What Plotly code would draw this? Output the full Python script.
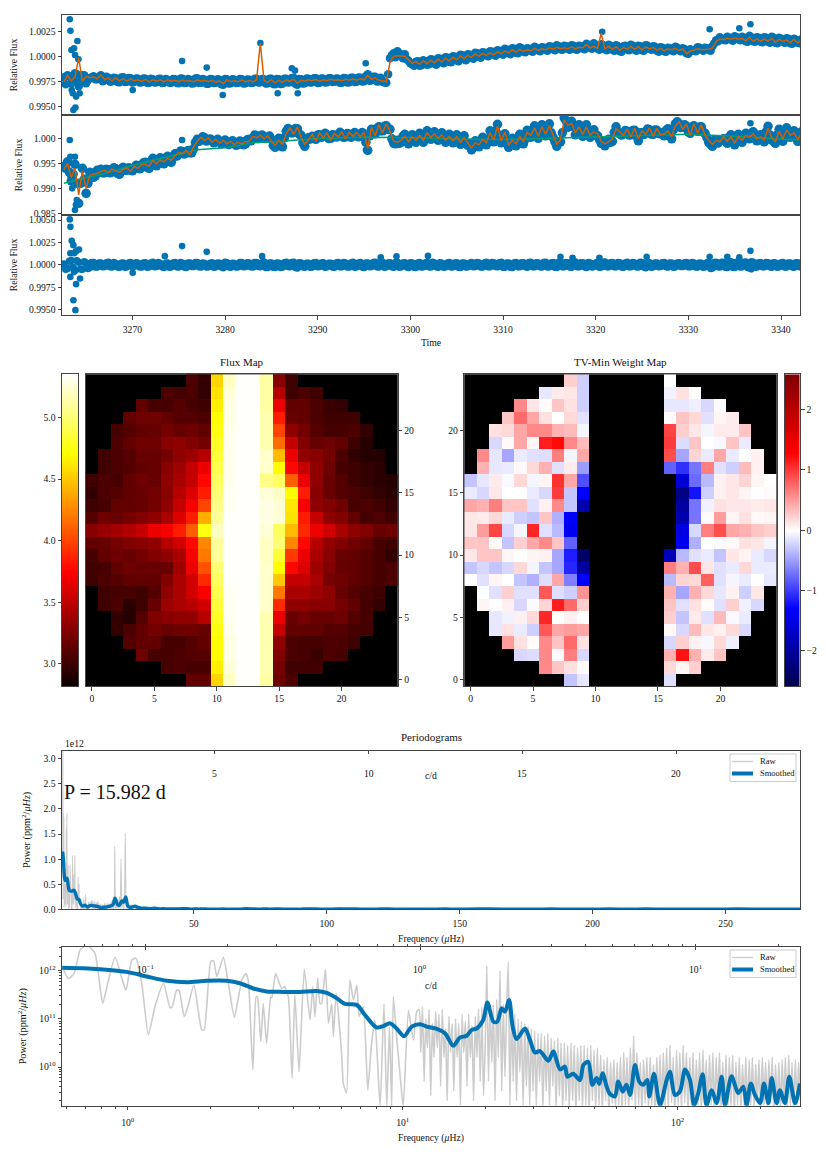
import plotly.graph_objects as go

N = None
WIDTH, HEIGHT = 831, 1155
FONT = "Liberation Serif"
BLUE, ORANGE, GREEN, GRAY = "#0173b2", "#d55e00", "#029e73", "#cccccc"
SPINE = "#444444"

## light curves, flux values are offsets from 1 in units of 1e-5
time_days = [
    3262.6, 3263.0, 3263.4, 3263.8, 3264.2, 3264.6, 3265.0, 3265.4, 3265.8, 3266.2,
    3266.6, 3267.0, 3267.4, 3267.8, 3268.2, 3268.6, 3269.0, 3269.4, 3269.8, 3270.2,
    3270.6, 3271.0, 3271.4, 3271.8, 3272.2, 3272.6, 3273.0, 3273.4, 3273.8, 3274.2,
    3274.6, 3275.0, 3275.4, 3275.8, 3276.2, 3276.6, 3277.0, 3277.4, 3277.8, 3278.2,
    3278.6, 3279.0, 3279.4, 3279.8, 3280.2, 3280.6, 3281.0, 3281.4, 3281.8, 3282.2,
    3282.6, 3283.0, 3283.4, 3283.8, 3284.2, 3284.6, 3285.0, 3285.4, 3285.8, 3286.2,
    3286.6, 3287.0, 3287.4, 3287.8, 3288.2, 3288.6, 3289.0, 3289.4, 3289.8, 3290.2,
    3290.6, 3291.0, 3291.4, 3291.8, 3292.2, 3292.6, 3293.0, 3293.4, 3293.8, 3294.2,
    3294.6, 3295.0, 3295.4, 3295.8, 3296.2, 3296.6, 3297.0, 3297.4, 3297.8, 3298.2,
    3298.6, 3299.0, 3299.4, 3299.8, 3300.2, 3300.6, 3301.0, 3301.4, 3301.8, 3302.2,
    3302.6, 3303.0, 3303.4, 3303.8, 3304.2, 3304.6, 3305.0, 3305.4, 3305.8, 3306.2,
    3306.6, 3307.0, 3307.4, 3307.8, 3308.2, 3308.6, 3309.0, 3309.4, 3309.8, 3310.2,
    3310.6, 3311.0, 3311.4, 3311.8, 3312.2, 3312.6, 3313.0, 3313.4, 3313.8, 3314.2,
    3314.6, 3315.0, 3315.4, 3315.8, 3316.2, 3316.6, 3317.0, 3317.4, 3317.8, 3318.2,
    3318.6, 3319.0, 3319.4, 3319.8, 3320.2, 3320.6, 3321.0, 3321.4, 3321.8, 3322.2,
    3322.6, 3323.0, 3323.4, 3323.8, 3324.2, 3324.6, 3325.0, 3325.4, 3325.8, 3326.2,
    3326.6, 3327.0, 3327.4, 3327.8, 3328.2, 3328.6, 3329.0, 3329.4, 3329.8, 3330.2,
    3330.6, 3331.0, 3331.4, 3331.8, 3332.2, 3332.6, 3333.0, 3333.4, 3333.8, 3334.2,
    3334.6, 3335.0, 3335.4, 3335.8, 3336.2, 3336.6, 3337.0, 3337.4, 3337.8, 3338.2,
    3338.6, 3339.0, 3339.4, 3339.8, 3340.2, 3340.6, 3341.0, 3341.4, 3341.8, 3342.2,
]
## the samples in between those above
time_mid = [
    3262.8, 3263.2, 3263.6, 3264.0, 3264.4, 3264.8, 3265.2, 3265.6, 3266.0, 3266.4,
    3266.8, 3267.2, 3267.6, 3268.0, 3268.4, 3268.8, 3269.2, 3269.6, 3270.0, 3270.4,
    3270.8, 3271.2, 3271.6, 3272.0, 3272.4, 3272.8, 3273.2, 3273.6, 3274.0, 3274.4,
    3274.8, 3275.2, 3275.6, 3276.0, 3276.4, 3276.8, 3277.2, 3277.6, 3278.0, 3278.4,
    3278.8, 3279.2, 3279.6, 3280.0, 3280.4, 3280.8, 3281.2, 3281.6, 3282.0, 3282.4,
    3282.8, 3283.2, 3283.6, 3284.0, 3284.4, 3284.8, 3285.2, 3285.6, 3286.0, 3286.4,
    3286.8, 3287.2, 3287.6, 3288.0, 3288.4, 3288.8, 3289.2, 3289.6, 3290.0, 3290.4,
    3290.8, 3291.2, 3291.6, 3292.0, 3292.4, 3292.8, 3293.2, 3293.6, 3294.0, 3294.4,
    3294.8, 3295.2, 3295.6, 3296.0, 3296.4, 3296.8, 3297.2, 3297.6, 3298.0, 3298.4,
    3298.8, 3299.2, 3299.6, 3300.0, 3300.4, 3300.8, 3301.2, 3301.6, 3302.0, 3302.4,
    3302.8, 3303.2, 3303.6, 3304.0, 3304.4, 3304.8, 3305.2, 3305.6, 3306.0, 3306.4,
    3306.8, 3307.2, 3307.6, 3308.0, 3308.4, 3308.8, 3309.2, 3309.6, 3310.0, 3310.4,
    3310.8, 3311.2, 3311.6, 3312.0, 3312.4, 3312.8, 3313.2, 3313.6, 3314.0, 3314.4,
    3314.8, 3315.2, 3315.6, 3316.0, 3316.4, 3316.8, 3317.2, 3317.6, 3318.0, 3318.4,
    3318.8, 3319.2, 3319.6, 3320.0, 3320.4, 3320.8, 3321.2, 3321.6, 3322.0, 3322.4,
    3322.8, 3323.2, 3323.6, 3324.0, 3324.4, 3324.8, 3325.2, 3325.6, 3326.0, 3326.4,
    3326.8, 3327.2, 3327.6, 3328.0, 3328.4, 3328.8, 3329.2, 3329.6, 3330.0, 3330.4,
    3330.8, 3331.2, 3331.6, 3332.0, 3332.4, 3332.8, 3333.2, 3333.6, 3334.0, 3334.4,
    3334.8, 3335.2, 3335.6, 3336.0, 3336.4, 3336.8, 3337.2, 3337.6, 3338.0, 3338.4,
    3338.8, 3339.2, 3339.6, 3340.0, 3340.4, 3340.8, 3341.2, 3341.6, 3342.0, 3342.4,
]

raw_flux = [
    -210, -190, -270, -170, -300, -190, -270, -220, -200, -230,
    -190, -240, -215, -250, -220, -260, -210, -255, -220, -255,
    -225, -260, -225, -265, -230, -260, -225, -265, -235, -265,
    -230, -270, -225, -265, -235, -270, -220, -265, -235, -275,
    -230, -265, -235, -285, -230, -270, -235, -265, -230, -270,
    -235, -265, -225, -260, -230, -270, -225, -280, -230, -275,
    -225, -260, -215, -285, -230, -270, -225, -260, -220, -265,
    -225, -260, -220, -255, -225, -265, -220, -260, -215, -255,
    -215, -250, -180, -240, -205, -250, -255, -265, -20, 30,
    50, 0, 20, -45, -80, -55, -95, -40, -85, -30,
    -75, -20, -60, -10, -55, 0, -40, 15, -30, 20,
    -15, 35, -5, 40, 10, 50, 15, 60, 25, 75,
    30, 80, 35, 90, 45, 80, 55, 95, 60, 90,
    65, 100, 70, 110, 70, 105, 75, 110, 70, 105,
    80, 125, 85, 130, 75, 120, 70, 115, 65, 110,
    50, 100, 70, 115, 65, 105, 60, 110, 75, 100,
    55, 90, 50, 85, 60, 95, 60, 80, 30, 70,
    60, 90, 65, 85, 65, 100, 160, 190, 165, 195,
    165, 200, 170, 195, 150, 205, 150, 190, 145, 190,
    145, 195, 135, 185, 145, 180, 130, 175, 135, 170,
]
raw_flux_mid = [
    -280, -200, -240, -180, -250, -190, -240, -210, -230, -205,
    -250, -205, -255, -215, -258, -212, -258, -218, -262, -222,
    -262, -222, -265, -224, -262, -226, -266, -228, -265, -228,
    -268, -222, -268, -228, -272, -222, -268, -226, -275, -228,
    -268, -230, -280, -228, -272, -230, -268, -228, -272, -232,
    -268, -225, -262, -228, -272, -224, -278, -228, -276, -224,
    -262, -218, -278, -228, -272, -222, -262, -220, -266, -222,
    -262, -220, -258, -222, -265, -218, -262, -215, -258, -212,
    -252, -200, -245, -205, -252, -215, -262, -180, 10, -10,
    30, -20, -30, -70, -95, -50, -90, -50, -80, -35,
    -85, -25, -70, -15, -60, -5, -50, 10, -40, 15,
    -25, 30, -15, 35, 0, 45, 5, 55, 15, 65,
    20, 75, 30, 80, 40, 75, 45, 85, 50, 85,
    55, 95, 60, 100, 65, 100, 65, 105, 65, 100,
    70, 115, 75, 110, 65, 110, 60, 105, 55, 100,
    45, 105, 60, 105, 55, 100, 55, 105, 65, 95,
    45, 85, 45, 80, 50, 85, 50, 70, 25, 55,
    50, 85, 55, 80, 55, 130, 150, 170, 160, 185,
    155, 190, 160, 185, 145, 190, 145, 185, 140, 185,
    135, 185, 130, 175, 135, 175, 125, 165, 130, 165,
]
raw_model = [
    -255, -190, -245, -205, -15, -250, -200, -215, -205, -225,
    -185, -235, -215, -245, -215, -245, -225, -245, -225, -245,
    -235, -250, -230, -255, -235, -250, -235, -255, -235, -250,
    -240, -255, -235, -250, -245, -255, -235, -250, -240, -255,
    -240, -260, -245, -275, -235, -255, -245, -255, -235, -255,
    -245, -255, -235, 133, -240, -260, -235, -265, -240, -260,
    -235, -250, -230, -270, -240, -250, -235, -245, -230, -250,
    -235, -245, -230, -240, -235, -245, -230, -240, -225, -240,
    -225, -235, -190, -230, -215, -240, -245, -255, -60, 0,
    5, 5, 0, -35, -70, -50, -80, -45, -75, -40,
    -65, -30, -55, -20, -45, -10, -35, 5, -25, 10,
    -10, 25, 0, 30, 10, 35, 15, 45, 25, 55,
    35, 65, 40, 70, 50, 65, 55, 80, 60, 75,
    65, 85, 70, 90, 75, 85, 75, 95, 75, 90,
    85, 115, 85, 100, 80, 230, 75, 100, 70, 95,
    60, 90, 70, 100, 70, 95, 65, 95, 75, 90,
    60, 80, 55, 75, 65, 80, 60, 75, 25, 50,
    60, 75, 65, 70, 70, 85, 150, 175, 165, 180,
    170, 185, 170, 180, 155, 190, 150, 175, 150, 175,
    150, 180, 140, 170, 150, 165, 135, 170, 135, 160,
]
raw_out_time = [3263.24, 3263.31, 3264.06, 3263.42, 3263.7, 3263.81, 3264.17, 3263.45, 3263.56, 3263.92, 3264.3,
                3263.63, 3263.85, 3264.46, 3275.36, 3278.02, 3283.81, 3270.03, 3279.75, 3285.68, 3287.84,
                3287.2, 3287.55, 3295.18, 3298.5, 3320.7, 3336.7, 3332.3, 3335.5]
raw_out_flux = [370, 256, 153, 63, 80, 13, -30, -337, -370, -403, -370,
                -537, -513, -270, -47, -113, 133, -337, -387, -370, -370,
                -120, -143, -70, 30, 246, 320, 270, 280]

detrend_flux = [
    -560, -470, -850, -520, -1300, -600, -1100, -680, -780, -640,
    -620, -690, -630, -660, -610, -720, -580, -640, -610, -600,
    -550, -580, -480, -600, -400, -550, -390, -510, -360, -480,
    -310, -320, -270, -280, -290, -210, -20, -20, 10, -30,
    -40, -60, -60, -80, -70, -100, -80, -120, -70, -110,
    -20, 0, 50, 20, 30, 10, -20, -180, 0, -170,
    140, 170, 120, 190, 60, -160, 10, 40, -20, 70,
    50, 70, 0, 60, 70, 90, 30, 80, 80, 70,
    70, 80, -240, 180, 90, 230, 150, 250, 180, -100,
    -40, -80, 80, -110, 70, -80, 100, -80, 150, -20,
    130, -40, 110, -80, 80, -90, 70, -120, 50, -140,
    -230, -50, -170, 20, -130, 150, -70, 280, -90, 90,
    -180, 0, -150, 80, -110, 160, 20, 250, 0, 270,
    50, 290, 20, -160, -70, 410, 220, 340, 70, 270,
    40, 270, 20, 170, 50, -100, -150, -20, -60, 230,
    90, 100, 140, 70, 160, -50, 110, 120, 170, 80,
    160, 110, 50, 190, -10, 290, 290, 220, 240, 100,
    250, 140, 230, 100, -80, -160, -80, -30, -10, -100,
    70, -130, 80, -80, 100, -10, 130, -50, 70, -70,
    240, -30, -100, 180, -60, 210, 20, 150, -60, 130,
]
detrend_flux_mid = [
    -600, -680, -720, -900, -900, -820, -900, -700, -750, -650,
    -690, -620, -690, -590, -700, -610, -640, -590, -650, -540,
    -610, -490, -580, -460, -520, -430, -490, -395, -460, -370,
    -355, -255, -315, -245, -290, -85, -60, 30, -55, -15,
    -90, -20, -110, -35, -125, -50, -140, -55, -130, -30,
    -50, 65, -5, 65, -5, 45, -140, -60, -125, 10,
    195, 105, 195, 85, -90, -35, -15, 5, 65, 20,
    100, -5, 70, 25, 120, 20, 95, 20, 115, 30,
    115, -80, 50, 95, 200, 150, 240, 175, -10, -110,
    -100, 40, -55, -20, -45, 40, -30, 75, 25, 95,
    5, 75, -25, 40, -45, 30, -65, 10, -85, -105,
    -180, -70, -115, -15, -25, -5, 145, 60, 30, -40,
    -130, -35, -75, 25, -10, 130, 75, 170, 80, 220,
    210, 110, -70, -70, 110, 350, 240, 240, 110, 210,
    195, 110, 115, 70, -25, -115, -45, -80, 120, 120,
    65, 155, 65, 155, 50, 110, 75, 185, 85, 165,
    95, 75, 160, 50, 175, 330, 215, 270, 130, 225,
    155, 225, 125, 15, -120, -40, -95, -25, -55, 25,
    -70, 10, -40, 45, 5, 100, -5, 50, -40, 130,
    65, -65, 70, 20, 110, 75, 125, 15, 80, 100,
]
detrend_model = [
    -620, -500, -780, -600, -1130, -650, -1000, -740, -720, -700,
    -660, -640, -680, -610, -650, -680, -620, -590, -660, -560,
    -600, -530, -520, -560, -440, -510, -430, -470, -400, -440,
    -350, -280, -310, -240, -330, -170, -60, 20, -40, 10,
    -80, -20, -100, -40, -110, -60, -120, -80, -110, -70,
    -60, 40, 10, 60, -10, 50, -60, -140, -40, -130,
    100, 210, 80, 230, 20, -120, -30, 80, -60, 110,
    10, 110, -40, 100, 30, 130, -10, 120, 40, 110,
    30, 120, -200, 220, 50, 270, 110, 290, 140, -60,
    -80, -40, 40, -70, 30, -40, 60, -40, 110, 20,
    90, 0, 70, -40, 40, -50, 30, -80, 10, -100,
    -190, -90, -130, -20, -90, 110, -30, 240, -50, 130,
    -140, -40, -110, 40, -70, 120, 60, 210, 40, 230,
    90, 250, 60, -120, -30, 370, 260, 300, 110, 230,
    80, 230, 60, 130, 90, -60, -110, -60, -20, 190,
    130, 60, 180, 30, 200, -10, 150, 80, 210, 40,
    200, 70, 90, 150, 30, 250, 330, 180, 280, 60,
    290, 100, 270, 60, -40, -120, -40, -70, 30, -60,
    30, -90, 40, -40, 60, 30, 90, -10, 30, -30,
    200, 10, -60, 140, -20, 170, 60, 110, -20, 90,
]
trend_time = [3262.6, 3265, 3268, 3270, 3272, 3275, 3277, 3280, 3283, 3286, 3290,
              3295, 3300, 3305, 3310, 3315, 3320, 3325, 3330, 3335, 3338, 3342]
trend_flux = [-900, -800, -660, -540, -450, -320, -230, -190, -90, -60, -5,
              20, 15, -15, -25, 0, 25, 45, 80, 40, 10, -35]
detrend_out_time = [3263.24, 3263.3, 3263.5, 3263.3, 3263.8, 3263.8, 3264.0, 3263.9, 3275.36, 3336.7, 3295.2]
detrend_out_flux = [-34, -368, -1000, -750, -368, -1434, -1234, -1330, -34, 300, -234]

resid_flux = [
    10, -40, 50, -60, 30, -50, 20, -30, 25, -25,
    22, -18, 28, -24, 15, -27, 20, -22, 26, -16,
    18, -25, 24, -20, 28, -18, 15, -28, 22, -20,
    25, -24, 17, -30, 21, -19, 26, -25, 16, -22,
    24, -20, 19, -32, 23, -26, 15, -21, 27, -18,
    20, -24, 26, -22, 32, -28, 22, -30, 18, -24,
    28, -20, 30, -34, 22, -26, 19, -24, 25, -18,
    24, -22, 18, -26, 27, -20, 21, -25, 30, -22,
    26, -28, 22, -18, 30, -24, 28, -20, 24, -26,
    30, -22, 24, -28, 20, -30, 26, -20, 30, -24,
    22, -26, 18, -22, 26, -20, 24, -28, 20, -22,
    26, -18, 22, -25, 28, -20, 24, -22, 30, -26,
    22, -28, 26, -20, 24, -26, 28, -22, 20, -24,
    30, -20, 26, -28, 34, -22, 24, -26, 32, -20,
    24, -28, 22, -18, 30, -24, 32, -22, 26, -20,
    24, -26, 28, -22, 20, -24, 26, -32, 24, -20,
    22, -18, 26, -24, 20, -22, 24, -18, 26, -20,
    22, -24, 18, -22, 28, -36, 30, -24, 26, -30,
    34, -28, 26, -22, 32, -36, 28, -24, 26, -22,
    24, -26, 20, -22, 26, -24, 22, -26, 24, -20,
]
resid_flux_mid = [
    -50, 40, -30, 45, -45, 35, -40, 25, -25, 20,
    -22, 24, -20, 26, -24, 18, -26, 22, -18, 24,
    -24, 20, -26, 22, -20, 26, -22, 18, -26, 20,
    -20, 26, -24, 22, -18, 26, -22, 20, -24, 18,
    -26, 22, -20, 28, -22, 18, -24, 26, -20, 24,
    -22, 26, -18, 24, -30, 22, -26, 20, -28, 24,
    -18, 26, -30, 24, -22, 18, -26, 24, -20, 22,
    -26, 18, -24, 22, -20, 26, -24, 20, -26, 22,
    -24, 22, -20, 26, -22, 24, -26, 20, -22, 26,
    -26, 20, -22, 24, -26, 20, -24, 22, -20, 28,
    -22, 24, -26, 20, -24, 22, -26, 20, -24, 18,
    -20, 26, -24, 20, -22, 26, -18, 24, -26, 22,
    -26, 22, -20, 24, -18, 26, -22, 24, -20, 26,
    -24, 22, -26, 30, -20, 26, -24, 28, -22, 24,
    -20, 26, -24, 22, -26, 28, -20, 24, -22, 26,
    -24, 22, -20, 26, -22, 30, -24, 28, -26, 22,
    -20, 24, -22, 20, -26, 22, -18, 24, -22, 26,
    -24, 20, -26, 24, -30, 26, -22, 28, -26, 30,
    -26, 30, -24, 28, -30, 34, -26, 24, -20, 26,
    -22, 24, -26, 20, -24, 22, -20, 24, -22, 26,
]
resid_out_time = [3263.24, 3263.31, 3263.45, 3263.63, 3263.3, 3263.7, 3264.24, 3263.9, 3263.3, 3263.7, 3263.92,
                  3264.35, 3263.63, 3263.85, 3270.03, 3275.36, 3278.02, 3273.5, 3284.0, 3296.8, 3298.5,
                  3301.9, 3325.5, 3316.2, 3317.5, 3320.4, 3332.3, 3334.2, 3335.5, 3336.7, 3336.8, 3332.4]
resid_out_flux = [507, 424, 268, 220, 130, 130, 172, 150, -134, -80, -215,
                  -152, -394, -505, -89, 209, 145, 97, 97, 83, 95,
                  100, 90, 90, 80, 80, 90, 90, 85, 156, -50, -45]

## pixel maps, top row first; flux map is log10 of the counts
flux_map = [
    [N, N, N, N, N, N, N, N, 3.07, 2.97, 4.55, 5.2, 5.34, 5.34, 5.12, 3.3, 3.02, N, N, N, N, N, N, N, N],
    [N, N, N, N, N, N, 3.07, 3.05, 3.07, 2.97, 4.6, 5.25, 5.34, 5.34, 5.12, 3.47, 3.02, 3.07, 3.02, N, N, N, N, N, N],
    [N, N, N, N, 3.15, 3.05, 3.05, 3.1, 3.05, 3.02, 4.65, 5.28, 5.34, 5.34, 5.12, 3.67, 3.15, 3.15, 3.07, 3.0, 2.97, N, N, N, N],
    [N, N, N, 3.15, 3.2, 3.2, 3.15, 3.1, 3.1, 3.07, 4.7, 5.28, 5.34, 5.34, 5.15, 3.85, 3.17, 3.15, 3.07, 3.02, 3.02, 3.02, N, N, N],
    [N, N, 3.05, 3.1, 3.15, 3.17, 3.22, 3.17, 3.2, 3.15, 4.75, 5.3, 5.34, 5.34, 5.15, 4.0, 3.32, 3.22, 3.1, 3.05, 3.05, 3.07, 2.97, N, N],
    [N, N, 3.07, 3.15, 3.2, 3.2, 3.3, 3.32, 3.27, 3.22, 4.8, 5.3, 5.34, 5.34, 5.15, 4.15, 3.52, 3.27, 3.17, 3.2, 3.15, 3.02, 2.92, N, N],
    [N, 3.02, 3.07, 3.1, 3.17, 3.17, 3.22, 3.32, 3.37, 3.47, 4.85, 5.3, 5.34, 5.34, 5.22, 4.45, 3.67, 3.32, 3.3, 3.22, 3.07, 2.97, 2.92, 2.92, N],
    [N, 3.02, 3.07, 3.1, 3.15, 3.17, 3.3, 3.37, 3.52, 3.67, 4.9, 5.3, 5.34, 5.34, 5.22, 4.7, 3.77, 3.52, 3.32, 3.2, 3.05, 3.02, 2.97, 2.94, N],
    [3.02, 3.07, 3.05, 3.15, 3.2, 3.17, 3.32, 3.42, 3.52, 3.77, 4.95, 5.3, 5.34, 5.34, 5.05, 4.95, 4.1, 3.67, 3.32, 3.17, 3.1, 3.02, 2.97, 2.94, 2.92],
    [2.97, 3.07, 3.1, 3.15, 3.17, 3.22, 3.3, 3.47, 3.62, 3.85, 5.0, 5.32, 5.34, 5.34, 5.25, 5.2, 4.7, 3.85, 3.3, 3.17, 3.1, 3.07, 3.02, 2.97, 2.94],
    [3.02, 3.05, 3.15, 3.15, 3.17, 3.22, 3.32, 3.52, 3.72, 4.0, 5.05, 5.32, 5.34, 5.34, 5.28, 5.25, 4.62, 3.72, 3.32, 3.27, 3.2, 3.05, 3.07, 3.02, 2.97],
    [3.1, 3.2, 3.17, 3.22, 3.27, 3.32, 3.42, 3.62, 3.85, 4.4, 5.1, 5.34, 5.34, 5.34, 5.28, 5.25, 4.6, 3.85, 3.52, 3.32, 3.27, 3.15, 3.05, 3.07, 3.02],
    [3.3, 3.35, 3.4, 3.45, 3.52, 3.67, 3.72, 3.85, 4.1, 4.75, 5.2, 5.34, 5.34, 5.34, 5.25, 4.95, 4.45, 3.9, 3.67, 3.57, 3.42, 3.32, 3.27, 3.17, 3.2],
    [3.15, 3.17, 3.22, 3.27, 3.3, 3.32, 3.47, 3.57, 3.77, 4.25, 5.1, 5.34, 5.34, 5.34, 5.2, 5.0, 4.25, 3.77, 3.47, 3.32, 3.27, 3.2, 3.15, 3.05, 3.02],
    [3.05, 3.15, 3.2, 3.17, 3.22, 3.27, 3.32, 3.42, 3.72, 4.2, 5.1, 5.34, 5.34, 5.34, 5.2, 4.85, 3.95, 3.67, 3.42, 3.3, 3.17, 3.15, 3.1, 3.05, 2.97],
    [3.02, 3.05, 3.15, 3.2, 3.17, 3.17, 3.17, 3.37, 3.67, 4.05, 5.0, 5.34, 5.34, 5.34, 5.22, 4.7, 3.77, 3.62, 3.37, 3.27, 3.17, 3.15, 3.1, 3.05, 3.07],
    [3.02, 3.07, 3.1, 3.15, 3.15, 3.15, 3.27, 3.42, 3.57, 3.9, 4.95, 5.34, 5.34, 5.34, 5.22, 4.5, 3.52, 3.52, 3.42, 3.22, 3.2, 3.15, 3.1, 3.05, 3.07],
    [N, 3.02, 3.05, 3.05, 3.02, 3.1, 3.32, 3.42, 3.57, 3.72, 4.9, 5.32, 5.34, 5.34, 5.22, 4.2, 3.42, 3.42, 3.37, 3.32, 3.17, 3.1, 3.05, 3.02, N],
    [N, 3.02, 3.07, 2.94, 3.02, 3.17, 3.37, 3.42, 3.47, 3.57, 4.85, 5.32, 5.34, 5.34, 5.22, 3.9, 3.32, 3.32, 3.3, 3.3, 3.22, 3.15, 3.05, 2.97, N],
    [N, N, 2.97, 2.92, 3.1, 3.27, 3.3, 3.32, 3.32, 3.47, 4.8, 5.32, 5.34, 5.34, 5.15, 3.67, 3.17, 3.22, 3.17, 3.17, 3.2, 3.1, 3.05, N, N],
    [N, N, 2.97, 3.07, 3.15, 3.22, 3.17, 3.2, 3.2, 3.17, 4.75, 5.3, 5.34, 5.34, 5.15, 3.52, 3.15, 3.15, 3.15, 3.1, 3.1, 3.05, 3.05, N, N],
    [N, N, N, 3.1, 3.15, 3.15, 3.05, 3.05, 3.1, 3.15, 4.7, 5.28, 5.34, 5.34, 5.15, 3.32, 3.07, 3.05, 3.05, 3.07, 3.07, 3.02, N, N, N],
    [N, N, N, N, 3.2, 3.05, 3.05, 3.07, 3.1, 3.1, 4.7, 5.28, 5.34, 5.34, 5.15, 3.27, 3.07, 3.05, 3.0, 3.07, 3.05, N, N, N, N],
    [N, N, N, N, N, N, 3.05, 3.07, 3.05, 3.05, 4.65, 5.25, 5.34, 5.34, 5.15, 3.22, 3.02, 3.02, 3.02, N, N, N, N, N, N],
    [N, N, N, N, N, N, N, N, 3.15, 3.15, 4.55, 5.2, 5.34, 5.34, 5.12, 3.2, 3.07, N, N, N, N, N, N, N, N],
]
weight_map = [
    [N, N, N, N, N, N, N, N, .25, -.25, N, N, N, N, N, N, 0, N, N, N, N, N, N, N, N],
    [N, N, N, N, N, N, -.12, .1, .12, -.25, N, N, N, N, N, N, -.07, .15, 0, N, N, N, N, N, N],
    [N, N, N, N, .6, .12, .02, .3, .15, -.25, N, N, N, N, N, N, -.12, -.12, -.08, -.2, -.02, N, N, N, N],
    [N, N, N, .3, .75, .45, .15, 0, .2, -.15, N, N, N, N, N, N, .02, .3, .2, -.15, .05, .1, N, N, N],
    [N, N, .15, .2, .45, .6, .6, .4, .35, -.05, N, N, N, N, N, N, .95, .25, .12, -.05, .1, .1, .3, N, N],
    [N, N, -.2, .02, .45, .05, 1.15, 1.25, .6, .35, N, N, N, N, N, N, 1.0, -.18, .3, 0, -.03, .3, -.1, N, N],
    [N, .6, -.12, -.45, -.1, -.15, -.17, .65, -.05, .45, N, N, N, N, N, N, .9, -.45, .22, -.1, .45, -.1, 0, .07, N],
    [N, .4, -.12, -.1, .03, .2, .4, -.15, .1, -.5, N, N, N, N, N, N, -.8, -1.05, -.7, .65, -.15, -.25, .35, .07, N],
    [-.3, -.12, .1, -.03, .2, -.05, .05, 1.05, .45, -.9, N, N, N, N, N, N, N, -1.6, -.75, -.35, .07, .12, .22, .05, 0],
    [-.1, -.2, .12, 0, 0, -.1, -.2, 1.0, -.3, -1.3, N, N, N, N, N, N, N, -2.2, -1.2, -.25, .07, .12, .05, 0, .02],
    [.45, .4, .65, .3, .3, -.15, .07, .6, -.3, -1.9, N, N, N, N, N, N, N, -2.0, -.7, -.07, .15, .12, .12, .1, .12],
    [.12, .1, .2, -.1, -.25, -.3, .3, -.4, -1.3, N, N, N, N, N, N, N, N, -1.9, -.7, .02, .5, .05, .15, .03, .05],
    [.12, .5, .95, -.2, -.05, 1.1, -.15, -.35, -1.4, N, N, N, N, N, N, N, N, -1.5, -.2, .65, .9, .45, .4, .3, .25],
    [.3, .3, .03, -.3, .25, .45, .6, .3, -.8, N, N, N, N, N, N, N, N, -1.4, -.4, 0, -.02, .03, .15, .12, -.05],
    [.12, .3, .3, .04, 0, .05, .07, -.45, -1.15, -2.4, N, N, N, N, N, N, -1.8, -.35, -.15, -.1, -.3, .12, .06, -.1, -.2],
    [-.3, -.2, -.3, -.2, .2, -.05, -.3, -.45, -1.1, -2.0, N, N, N, N, N, N, .65, .4, .9, .12, -.15, -.1, .2, -.1, -.1],
    [0, -.15, .05, 0, -.3, -.4, -.17, .45, -.65, -1.3, N, N, N, N, N, N, -.35, .22, .2, .8, -.15, -.05, -.1, 0, -.12],
    [N, 0, -.15, .25, -.15, -.15, .85, -.17, -.25, .55, N, N, N, N, N, N, .4, -.45, .4, .2, -.12, .07, -.25, .12, N],
    [N, .05, 0, .07, -.2, .02, .22, 1.15, .75, .25, N, N, N, N, N, N, .3, -.15, .15, .02, -.15, .25, -.07, -.2, N],
    [N, N, -.12, -.07, .07, .2, 1.1, 0, .07, 0, N, N, N, N, N, N, .25, -.3, .1, -.15, .35, -.03, -.1, N, N],
    [N, N, -.12, .15, -.1, -.25, .85, .45, .5, .45, N, N, N, N, N, N, .03, -.2, .35, .12, .07, .2, -.2, N, N],
    [N, N, N, .5, .15, .02, .6, .3, .75, .15, N, N, N, N, N, N, -.2, .25, .07, -.04, .2, -.08, N, N, N],
    [N, N, N, N, -.2, -.18, .6, .02, .65, -.2, N, N, N, N, N, N, .4, 1.2, .4, .1, .3, N, N, N, N],
    [N, N, N, N, N, N, .6, .3, .15, .03, N, N, N, N, N, N, .2, .05, .25, N, N, N, N, N, N],
    [N, N, N, N, N, N, N, N, -.3, -.12, N, N, N, N, N, N, -.17, N, N, N, N, N, N, N, N],
]
pixel_index = list(range(25))
flux_levels = [2.82, 5.35]
weight_levels = [-2.59, 2.59]

## periodogram, log10 of frequency (uHz) and log10 of power
raw_log_freq = [
    -.238, -.216, -.195, -.173, -.147, -.119, -.091, -.07, -.046, -.016, -.006, .015, .03, .051, .075, .099,
    .13, .154, .162, .178, .187, .205, .215, .241, .269, .278, .302, .312, .324, .348, .366, .388,
    .415, .43, .439, .455, .467, .472, .484, .493, .505, .52, .524, .538, .56, .57, .584, .598,
    .608, .623, .642, .663, .673, .681, .691, .699, .705, .719, .73, .742, .748, .758, .778, .784,
    .796, .808, .821, .833, .842, .857, .873, .887, .899, .918, .932, .942, .952, .96, .966, .978,
    .99, 1.002, 1.021, 1.039, 1.051,
    1.060, 1.066, 1.072, 1.078, 1.084, 1.090, 1.096, 1.102, 1.108, 1.114,
    1.120, 1.126, 1.132, 1.138, 1.144, 1.150, 1.156, 1.162, 1.168, 1.174,
    1.180, 1.186, 1.192, 1.198, 1.204, 1.210, 1.216, 1.222, 1.228, 1.234,
    1.240, 1.246, 1.252, 1.258, 1.264, 1.270, 1.276, 1.282, 1.288, 1.294,
    1.300, 1.306, 1.312, 1.318, 1.324, 1.330, 1.336, 1.342, 1.348, 1.354,
    1.360, 1.366, 1.372, 1.378, 1.384, 1.390, 1.396, 1.402, 1.408, 1.414,
    1.420, 1.426, 1.432, 1.438, 1.444, 1.450, 1.456, 1.462, 1.468, 1.474,
    1.480, 1.486, 1.492, 1.498, 1.504, 1.510, 1.516, 1.522, 1.528, 1.534,
    1.540, 1.546, 1.552, 1.558, 1.564, 1.570, 1.576, 1.582, 1.588, 1.594,
    1.600, 1.606, 1.612, 1.618, 1.624, 1.630, 1.636, 1.642, 1.648, 1.654,
    1.660, 1.666, 1.672, 1.678, 1.684, 1.690, 1.696, 1.702, 1.708, 1.714,
    1.720, 1.726, 1.732, 1.738, 1.744, 1.750, 1.756, 1.762, 1.768, 1.774,
    1.780, 1.786, 1.792, 1.798, 1.804, 1.810, 1.816, 1.822, 1.828, 1.834,
    1.840, 1.846, 1.852, 1.858, 1.864, 1.870, 1.876, 1.882, 1.888, 1.894,
    1.900, 1.906, 1.912, 1.918, 1.924, 1.930, 1.936, 1.942, 1.948, 1.954,
    1.960, 1.966, 1.972, 1.978, 1.984, 1.990, 1.996, 2.002, 2.008, 2.014,
    2.020, 2.026, 2.032, 2.038, 2.044, 2.050, 2.056, 2.062, 2.068, 2.074,
    2.080, 2.086, 2.092, 2.098, 2.104, 2.110, 2.116, 2.122, 2.128, 2.134,
    2.140, 2.146, 2.152, 2.158, 2.164, 2.170, 2.176, 2.182, 2.188, 2.194,
    2.200, 2.206, 2.212, 2.218, 2.224, 2.230, 2.236, 2.242, 2.248, 2.254,
    2.260, 2.266, 2.272, 2.278, 2.284, 2.290, 2.296, 2.302, 2.308, 2.314,
    2.320, 2.326, 2.332, 2.338, 2.344, 2.350, 2.356, 2.362, 2.368, 2.374,
    2.380, 2.386, 2.392, 2.398, 2.404, 2.410, 2.416, 2.422, 2.428, 2.434,
    2.440, 2.446,
]
raw_log_power = [
    12.08, 11.84, 11.94, 12.43, 12.53, 12.36, 11.32, 11.81, 12.28, 11.74, 11.59, 12.22, 12.26, 11.74, 10.67, 11.25,
    11.74, 11.23, 11.25, 11.6, 11.59, 11.05, 11.18, 11.7, 10.77, 10.77, 12.19, 12.21, 11.88, 12.28, 11.74, 11.03,
    11.81, 11.94, 11.77, 9.94, 11.46, 11.45, 10.53, 11.32, 10.49, 11.46, 11.43, 11.94, 11.63, 11.67, 11.46, 9.77,
    11.5, 9.9, 12.03, 10.98, 11.67, 11.05, 11.84, 11.32, 11.32, 12.03, 10.91, 11.32, 10.63, 11.53, 10.28, 9.66,
    9.46, 11.81, 11.39, 11.7, 11.05, 11.25, 9.52, 10.49, 10.98, 9.18, 11.32, 9.18, 10.84, 9.18, 11.46, 10.63,
    9.87, 9.18, 11.18, 10.56, 11.15,
    11.2, 10.3, 11.25, 9.7, 11.0, 10.4, 11.2, 9.4, 10.9, 10.2,
    11.15, 10.4, 11.1, 9.6, 11.2, 10.2, 10.8, 9.3, 11.05, 10.3,
    10.9, 9.5, 11.0, 10.2, 10.9, 9.2, 11.1, 10.3, 10.95, 9.6,
    11.1, 10.2, 10.85, 9.3, 11.05, 10.2, 11.2, 9.7, 11.25, 9.4,
    10.4, 12.1, 9.7, 11.3, 10.1, 11.3, 9.3, 11.4, 10.2, 12.0,
    9.5, 11.3, 9.8, 11.2, 12.18, 9.2, 11.2, 9.7, 11.1, 9.3,
    11.0, 9.9, 10.95, 9.2, 10.9, 9.6, 10.85, 9.2, 10.8, 9.5,
    10.75, 9.2, 10.7, 9.7, 10.7, 9.1, 10.65, 9.5, 10.7, 9.2,
    10.6, 9.6, 10.55, 9.1, 10.6, 9.4, 10.5, 9.1, 10.5, 9.3,
    10.45, 9.1, 10.5, 9.3, 10.45, 9.0, 10.4, 9.3, 10.45, 9.1,
    10.45, 9.2, 10.4, 9.0, 10.45, 9.3, 10.35, 9.1, 10.4, 9.2,
    10.25, 9.1, 10.15, 9.3, 10.2, 9.0, 10.1, 9.25, 10.15, 9.1,
    10.1, 9.2, 10.2, 9.0, 10.3, 9.2, 10.2, 9.1, 10.4, 9.3,
    10.65, 9.1, 10.3, 9.2, 10.1, 9.0, 10.15, 9.25, 10.2, 9.1,
    10.2, 9.2, 10.05, 9.0, 10.2, 9.25, 10.25, 9.1, 10.3, 9.2,
    10.4, 9.1, 10.45, 9.25, 10.2, 9.0, 10.35, 9.2, 10.3, 9.1,
    10.45, 9.25, 10.3, 9.0, 10.2, 9.2, 10.3, 9.1, 10.15, 9.2,
    10.3, 9.0, 10.35, 9.25, 10.15, 9.1, 10.25, 9.2, 10.3, 9.0,
    10.2, 9.25, 10.3, 9.1, 10.1, 9.2, 10.25, 9.0, 10.2, 9.15,
    10.25, 9.0, 10.1, 9.2, 10.2, 9.1, 10.05, 9.2, 10.2, 9.0,
    10.15, 9.2, 10.2, 9.1, 10.05, 9.25, 10.15, 9.0, 10.2, 9.2,
    10.1, 9.1, 10.15, 9.25, 10.2, 9.0, 10.05, 9.2, 10.1, 9.1,
    10.15, 9.25, 10.2, 9.0, 10.25, 9.2, 10.1, 9.1, 10.15, 9.2,
    10.1, 9.3,
]
smooth_log_freq = [
    -.238, -.161, -.101, 0, .069, .142, .215, .287, .36, .408, .457, .505, .566, .627, .687, .724, .76, .79, .833,
    .863, .905, .93, .954, .978, 1.005, 1.033, 1.063, 1.087, 1.124, 1.154, 1.184, 1.208, 1.233, 1.251, 1.269,
    1.293, 1.308, 1.33, 1.344, 1.36, 1.372, 1.387, 1.4, 1.414, 1.445, 1.463, 1.481, 1.499, 1.53, 1.548, 1.572,
    1.59, 1.599, 1.62, 1.645, 1.657, 1.675, 1.69, 1.705, 1.715, 1.727, 1.742, 1.754, 1.772, 1.784, 1.8, 1.814,
    1.827, 1.845, 1.86, 1.875, 1.89, 1.897, 1.914, 1.936, 1.96, 1.972, 1.99, 2.008, 2.027, 2.045, 2.06, 2.075,
    2.091, 2.105, 2.124, 2.142, 2.16, 2.172, 2.196, 2.22, 2.239, 2.251, 2.266, 2.281, 2.3, 2.314, 2.33, 2.342,
    2.36, 2.372, 2.39, 2.406, 2.427, 2.445,
]
smooth_log_power = [
    12.06, 12.05, 12.03, 11.97, 11.88, 11.79, 11.76, 11.79, 11.79, 11.74, 11.63, 11.57, 11.56, 11.56, 11.58, 11.54, 11.43, 11.31, 11.29,
    11.08, 10.82, 10.85, 10.91, 10.8, 10.64, 10.84, 10.89, 10.84, 10.79, 10.7, 10.44, 10.61, 10.65, 10.77, 10.8,
    10.98, 11.34, 10.94, 10.94, 11.22, 11.15, 11.39, 10.84, 10.58, 10.8, 10.56, 10.3, 10.33, 10.13, 10.32, 9.95,
    10.01, 9.8, 9.86, 9.73, 10.04, 10.11, 9.63, 9.77, 9.65, 9.87, 9.59, 9.44, 9.39, 9.7, 9.49, 9.63,
    9.42, 10.04, 9.7, 9.63, 9.73, 9.39, 9.86, 9.21, 9.73, 9.9, 9.42, 9.49, 9.95, 9.73, 9.21, 9.46,
    9.85, 9.21, 9.52, 9.25, 9.8, 9.21, 9.81, 9.46, 9.59, 9.21, 9.66, 9.42, 9.25, 9.66, 9.25, 9.77,
    9.25, 9.52, 9.25, 9.8, 9.25, 9.66,
]
UHZ_PER_CD = 11.574
cd_ticks_linear = [5, 10, 15, 20]
cd_ticks_log = [0.1, 1, 10]
cd_labels_log = ["10<sup>−1</sup>", "10<sup>0</sup>", "10<sup>1</sup>"]


def rel(values):
    return [1 + v * 1e-5 for v in values]


def pow10(values):
    return [10 ** v for v in values]


def xdom(left, right):
    return [left / WIDTH, right / WIDTH]


def ydom(top, bottom):
    return [1 - bottom / HEIGHT, 1 - top / HEIGHT]


raw_f, raw_p = pow10(raw_log_freq), pow10(raw_log_power)
smooth_f, smooth_p = pow10(smooth_log_freq), pow10(smooth_log_power)

hot = [[0, "rgb(10,0,0)"], [.365, "rgb(255,0,0)"], [.746, "rgb(255,255,0)"], [1, "rgb(255,255,255)"]]
seismic = [[0, "rgb(0,0,77)"], [.25, "rgb(0,0,255)"], [.5, "rgb(255,255,255)"], [.75, "rgb(255,0,0)"], [1, "rgb(128,0,0)"]]

fig = go.Figure()


def points(x, y, ax, size=6.6):
    fig.add_trace(go.Scatter(x=x, y=y, mode="markers", showlegend=False,
                             marker=dict(color=BLUE, size=size), xaxis="x" + ax, yaxis="y" + ax))


def line(x, y, ax, color, width=1.5):
    fig.add_trace(go.Scatter(x=x, y=y, mode="lines", showlegend=False,
                             line=dict(color=color, width=width), xaxis="x" + ax, yaxis="y" + ax))


## light curve panels
points(time_days, rel(raw_flux), "", 8.5)
points(time_mid, rel(raw_flux_mid), "", 8.5)
points(raw_out_time, rel(raw_out_flux), "")
line(time_days, rel(raw_model), "", ORANGE)
points(time_days, rel(detrend_flux), "2", 9.5)
points(time_mid, rel(detrend_flux_mid), "2", 9.5)
points(detrend_out_time, rel(detrend_out_flux), "2")
line(trend_time, rel(trend_flux), "2", GREEN)
line(time_days, rel(detrend_model), "2", ORANGE)
points(time_days, rel(resid_flux), "3", 7.5)
points(time_mid, rel(resid_flux_mid), "3", 7.5)
points(resid_out_time, rel(resid_out_flux), "3")

## maps and their colour bars
fig.add_trace(go.Heatmap(z=flux_map[::-1], x=pixel_index, y=pixel_index, colorscale=hot, zmin=flux_levels[0],
                         zmax=flux_levels[1], showscale=False, xaxis="x4", yaxis="y4"))
fig.add_trace(go.Heatmap(z=[[flux_levels[0]] * 2, [flux_levels[1]] * 2], x=[0, 1], y=flux_levels, zsmooth="best",
                         colorscale=hot, zmin=flux_levels[0], zmax=flux_levels[1], showscale=False,
                         xaxis="x5", yaxis="y5"))
fig.add_trace(go.Heatmap(z=weight_map[::-1], x=pixel_index, y=pixel_index, colorscale=seismic, zmin=weight_levels[0],
                         zmax=weight_levels[1], showscale=False, xaxis="x6", yaxis="y6"))
fig.add_trace(go.Heatmap(z=[[weight_levels[0]] * 2, [weight_levels[1]] * 2], x=[0, 1], y=weight_levels, zsmooth="best",
                         colorscale=seismic, zmin=weight_levels[0], zmax=weight_levels[1], showscale=False,
                         xaxis="x7", yaxis="y7"))

## periodograms, linear then log
for ax, w_raw, w_smooth in (("8", 1.1, 3.4), ("10", 1.6, 4.0)):
    fig.add_trace(go.Scatter(x=raw_f, y=raw_p, mode="lines", showlegend=False,
                             line=dict(color=GRAY, width=w_raw, shape="spline", smoothing=0.5),
                             xaxis="x" + ax, yaxis="y" + ax))
    fig.add_trace(go.Scatter(x=smooth_f, y=smooth_p, mode="lines", showlegend=False,
                             line=dict(color=BLUE, width=w_smooth, shape="spline", smoothing=0.8),
                             xaxis="x" + ax, yaxis="y" + ax))
## invisible traces so the c/d axes on top get drawn
fig.add_trace(go.Scatter(x=cd_ticks_linear, y=[1e12] * 4, mode="markers", opacity=0, showlegend=False,
                         hoverinfo="skip", xaxis="x9", yaxis="y8"))
fig.add_trace(go.Scatter(x=cd_ticks_log, y=[1e12] * 3, mode="markers", opacity=0, showlegend=False,
                         hoverinfo="skip", xaxis="x11", yaxis="y10"))

tickfont = dict(family=FONT, size=9.7, color="#111111")
base = dict(showline=True, linecolor=SPINE, linewidth=1, mirror=True, showgrid=False, zeroline=False, automargin=False,
            ticks="outside", ticklen=3.5, tickwidth=0.8, tickcolor=SPINE, tickfont=tickfont)


def axis_title(text, standoff, size=9.7):
    return dict(text=text, font=dict(family=FONT, size=size, color="#111111"), standoff=standoff)


time_range = [3262.4, 3342.05]
time_ticks = [3270, 3280, 3290, 3300, 3310, 3320, 3330, 3340]
pixel_ticks = [0, 5, 10, 15, 20]
lin_range_uhz = [0.4, 278]
log_range_uhz = [-0.239, 2.445]
minor_log = dict(ticks="outside", ticklen=2, tickwidth=0.6, tickcolor=SPINE, dtick="D1")

fig.update_layout(
    template="none", showlegend=False,
    width=WIDTH, height=HEIGHT, margin=dict(l=0, r=0, t=0, b=0), paper_bgcolor="white", plot_bgcolor="white",
    font=dict(family=FONT, size=9.7, color="#111111"), hovermode=False,
    xaxis=dict(base, domain=xdom(62, 800), range=time_range, ticks="", showticklabels=False, anchor="y"),
    yaxis=dict(base, domain=ydom(15, 115), range=[0.99413, 1.00413], tickvals=[.995, .9975, 1.0, 1.0025],
               tickformat=".4f", title=axis_title("Relative Flux", 9), anchor="x"),
    xaxis2=dict(base, domain=xdom(62, 800), range=time_range, ticks="", showticklabels=False, anchor="y2"),
    yaxis2=dict(base, domain=ydom(115, 215), range=[0.98467, 1.00466], tickvals=[.985, .99, .995, 1.0],
                tickformat=".3f", title=axis_title("Relative Flux", 9), anchor="x2"),
    xaxis3=dict(base, domain=xdom(62, 800), range=time_range, tickvals=time_ticks, tickformat="d", anchor="y3",
                ticklabelstandoff=2, title=axis_title("Time", 5)),
    yaxis3=dict(base, domain=ydom(215, 315), range=[0.99441, 1.00556], tickvals=[.995, .9975, 1.0, 1.0025, 1.005],
                tickformat=".4f", title=axis_title("Relative Flux", 9), anchor="x3"),
    xaxis4=dict(base, domain=xdom(85.7, 397.7), range=[-0.5, 24.5], tickvals=pixel_ticks, anchor="y4"),
    yaxis4=dict(base, domain=ydom(374.3, 686), range=[-0.5, 24.5], tickvals=pixel_ticks, side="right", anchor="x4"),
    xaxis5=dict(base, domain=xdom(62, 78), range=[0, 1], ticks="", showticklabels=False, anchor="y5"),
    yaxis5=dict(base, domain=ydom(374.3, 686), range=flux_levels, tickvals=[3, 3.5, 4, 4.5, 5], tickformat=".1f",
                anchor="x5"),
    xaxis6=dict(base, domain=xdom(464.3, 776.7), range=[-0.5, 24.5], tickvals=pixel_ticks, anchor="y6"),
    yaxis6=dict(base, domain=ydom(374.3, 686), range=[-0.5, 24.5], tickvals=pixel_ticks, anchor="x6"),
    xaxis7=dict(base, domain=xdom(784.5, 800), range=[0, 1], ticks="", showticklabels=False, anchor="y7"),
    yaxis7=dict(base, domain=ydom(374.3, 686), range=weight_levels, tickvals=[-2, -1, 0, 1, 2], side="right",
                anchor="x7"),
    xaxis8=dict(base, domain=xdom(62, 800), range=lin_range_uhz, tickvals=[50, 100, 150, 200, 250], anchor="y8",
                mirror=False, ticklabelstandoff=2, title=axis_title("Frequency (<i>μ</i>Hz)", 6)),
    yaxis8=dict(base, domain=ydom(750.5, 909.3), range=[0, 3.165e12], anchor="x8",
                tickvals=[0, .5e12, 1e12, 1.5e12, 2e12, 2.5e12, 3e12],
                ticktext=["0.0", "0.5", "1.0", "1.5", "2.0", "2.5", "3.0"],
                title=axis_title("Power (ppm<sup>2</sup>/<i>μHz</i>)", 10, size=10.2)),
    xaxis9=dict(base, domain=xdom(62, 800), range=[r / UHZ_PER_CD for r in lin_range_uhz], overlaying="x8",
                side="top", anchor="y8", ticks="inside", tickvals=cd_ticks_linear, mirror=False,
                showticklabels=False),
    xaxis10=dict(base, domain=xdom(62, 800), type="log", range=log_range_uhz, anchor="y10", mirror=False,
                 tickvals=[1, 10, 100], ticktext=["10<sup>0</sup>", "10<sup>1</sup>", "10<sup>2</sup>"],
                 ticklabelstandoff=4, minor=minor_log, title=axis_title("Frequency (<i>μ</i>Hz)", 7)),
    yaxis10=dict(base, domain=ydom(946.7, 1105.7), type="log", range=[9.197, 12.498], anchor="x10",
                 tickvals=[1e10, 1e11, 1e12], ticktext=["10<sup>10</sup>", "10<sup>11</sup>", "10<sup>12</sup>"],
                 minor=minor_log, title=axis_title("Power (ppm<sup>2</sup>/<i>μHz</i>)", 10, size=10.2)),
    xaxis11=dict(base, domain=xdom(62, 800), type="log", range=[-1.302, 1.381], overlaying="x10", side="top",
                 anchor="y10", ticks="inside", mirror=False, tickvals=cd_ticks_log, minor=minor_log,
                 showticklabels=False),
)


def px_shape(**kw):
    ## shapes placed by page pixels, paper coordinates
    kw["x0"], kw["x1"] = kw["x0"] / WIDTH, kw["x1"] / WIDTH
    kw["y0"], kw["y1"] = 1 - kw["y0"] / HEIGHT, 1 - kw["y1"] / HEIGHT
    fig.add_shape(xref="paper", yref="paper", **kw)


def label(text, px, py, size=11, xanchor="center"):
    fig.add_annotation(text=text, x=px / WIDTH, y=1 - py / HEIGHT, xref="paper", yref="paper", showarrow=False,
                       xanchor=xanchor, yanchor="middle", font=dict(family=FONT, size=size, color="#111111"))


def cd_label(text, xpos, xref, py):
    ## the c/d tick labels sit inside the plot, well under their ticks
    fig.add_annotation(text=text, x=xpos, y=1 - py / HEIGHT, xref=xref, yref="paper", showarrow=False,
                       xanchor="center", yanchor="middle", font=dict(family=FONT, size=9.7, color="#111111"))


for v in cd_ticks_linear:
    cd_label(str(v), v, "x9", 773)
for v, text in zip([-1, 0, 1], cd_labels_log):
    cd_label(text, v, "x11", 969)

## black behind the masked pixels of both maps
fig.add_shape(type="rect", xref="x4 domain", yref="y4 domain", x0=0, x1=1, y0=0, y1=1, fillcolor="black",
              line_width=0, layer="below")
fig.add_shape(type="rect", xref="x6 domain", yref="y6 domain", x0=0, x1=1, y0=0, y1=1, fillcolor="black",
              line_width=0, layer="below")

## legends of the two periodograms
for top in (754, 950):
    px_shape(type="rect", x0=730, x1=796, y0=top, y1=top + 27.5, fillcolor="rgba(255,255,255,0.8)",
             line=dict(color="#cccccc", width=1))
    px_shape(type="line", x0=732, x1=753, y0=top + 7.5, y1=top + 7.5, line=dict(color=GRAY, width=1.4))
    px_shape(type="line", x0=732, x1=753, y0=top + 19.5, y1=top + 19.5, line=dict(color=BLUE, width=4))
    label("Raw", 758, top + 7, size=8.5, xanchor="left")
    label("Smoothed", 758, top + 19, size=8.5, xanchor="left")

label("Flux Map", 241.5, 362)
label("TV-Min Weight Map", 620.5, 362)
label("Periodograms", 431, 737)
label("1e12", 63, 743, size=9.7, xanchor="left")
label("c/d", 431, 775, size=9.7)
label("c/d", 431, 985, size=9.7)
label("P = 15.982 d", 62, 792, size=20, xanchor="left")

fig.write_html("out.html", config=dict(displayModeBar=False), post_script="document.body.style.margin='0';")
